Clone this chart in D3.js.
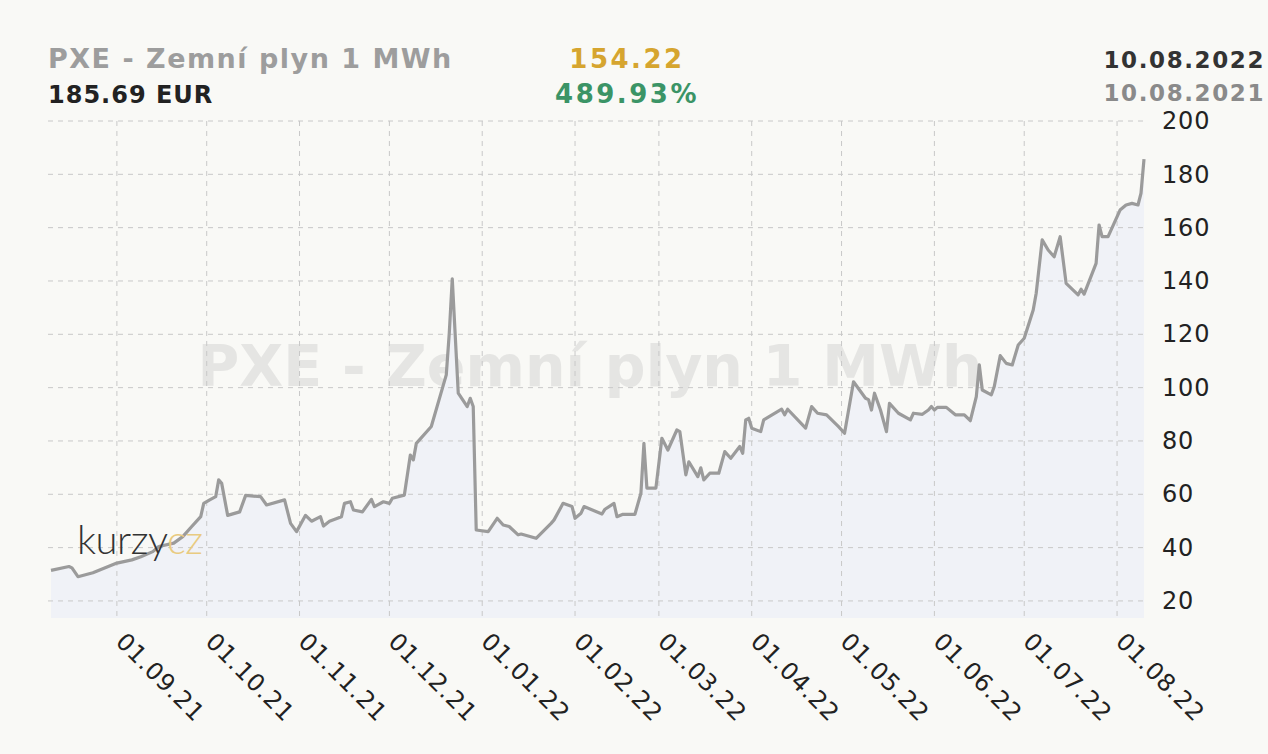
<!DOCTYPE html>
<html>
<head>
<meta charset="utf-8">
<script src="https://cdn.jsdelivr.net/npm/d3@7"></script>
<style>
  html, body { margin: 0; padding: 0; background: #f9f9f6; }
  svg { display: block; }
</style>
</head>
<body>
<div class="chart"></div>
<script>
// DATA
var title = "PXE - Zemní plyn 1 MWh";
var lastPrice = "185.69 EUR";
var change = "154.22";
var changePct = "489.93%";
var dateTo = "10.08.2022";
var dateFrom = "10.08.2021";

var dates = [
  "2021-08-10","2021-08-16","2021-08-17","2021-08-19","2021-08-24","2021-09-01","2021-09-06","2021-09-09",
  "2021-09-13","2021-09-15","2021-09-20","2021-09-23","2021-09-26","2021-09-29","2021-09-30","2021-10-02",
  "2021-10-04","2021-10-05","2021-10-06","2021-10-08","2021-10-12","2021-10-14","2021-10-19","2021-10-21",
  "2021-10-27","2021-10-29","2021-10-31","2021-11-03","2021-11-05","2021-11-08","2021-11-09","2021-11-11",
  "2021-11-15","2021-11-16","2021-11-18","2021-11-19","2021-11-22","2021-11-25","2021-11-26","2021-11-29",
  "2021-12-01","2021-12-02","2021-12-06","2021-12-08","2021-12-09","2021-12-10","2021-12-15","2021-12-20",
  "2021-12-21","2021-12-22","2021-12-24","2021-12-27","2021-12-28","2021-12-29","2021-12-30","2022-01-03",
  "2022-01-06","2022-01-08","2022-01-10","2022-01-13","2022-01-14","2022-01-19","2022-01-24","2022-01-25",
  "2022-01-28","2022-01-31","2022-02-01","2022-02-03","2022-02-04","2022-02-10","2022-02-11","2022-02-14",
  "2022-02-15","2022-02-17","2022-02-21","2022-02-23","2022-02-24","2022-02-25","2022-02-28","2022-03-02",
  "2022-03-04","2022-03-07","2022-03-08","2022-03-10","2022-03-11","2022-03-14","2022-03-15","2022-03-16",
  "2022-03-18","2022-03-21","2022-03-23","2022-03-25","2022-03-28","2022-03-29","2022-03-30","2022-03-31",
  "2022-04-01","2022-04-04","2022-04-05","2022-04-11","2022-04-12","2022-04-13","2022-04-19","2022-04-21",
  "2022-04-23","2022-04-26","2022-04-30","2022-05-02","2022-05-05","2022-05-07","2022-05-09","2022-05-10",
  "2022-05-11","2022-05-12","2022-05-14","2022-05-16","2022-05-17","2022-05-20","2022-05-24","2022-05-25",
  "2022-05-28","2022-05-30","2022-05-31","2022-06-01","2022-06-02","2022-06-05","2022-06-08","2022-06-11",
  "2022-06-13","2022-06-15","2022-06-16","2022-06-17","2022-06-20","2022-06-21","2022-06-23","2022-06-25",
  "2022-06-27","2022-06-29","2022-07-01","2022-07-04","2022-07-05","2022-07-07","2022-07-09","2022-07-11",
  "2022-07-13","2022-07-15","2022-07-19","2022-07-20","2022-07-21","2022-07-25","2022-07-26","2022-07-27",
  "2022-07-29","2022-08-02","2022-08-04","2022-08-06","2022-08-08","2022-08-09","2022-08-10"
];
var values = [
  31.47, 32.9, 32.4, 29.1, 30.6, 34.2, 35.4, 36.6,
  38.5, 40.4, 41.7, 44.1, 47.9, 51.6, 56.6, 57.9,
  59.1, 65.4, 64.1, 52.1, 53.4, 59.6, 59.1, 56.0,
  57.9, 49.1, 46.0, 52.1, 49.9, 51.6, 48.1, 49.9,
  51.6, 56.6, 57.2, 54.1, 53.4, 58.1, 55.4, 57.2,
  56.6, 58.5, 59.7, 74.7, 72.9, 79.1, 85.4, 104.8,
  120.4, 140.8, 97.9, 92.9, 96.0, 92.9, 46.6, 46.0,
  51.0, 48.5, 47.9, 44.8, 45.1, 43.5, 49.1, 50.4,
  56.6, 55.4, 51.0, 52.9, 55.4, 52.6, 54.4, 56.6,
  51.6, 52.5, 52.5, 60.4, 79.1, 62.3, 62.3, 81.0,
  76.6, 84.1, 83.5, 67.3, 72.2, 66.6, 69.9, 65.4,
  67.9, 67.9, 76.0, 73.5, 77.9, 75.4, 87.9, 88.5,
  84.8, 83.5, 87.9, 91.9, 89.8, 91.9, 84.8, 92.9,
  90.4, 89.8, 85.4, 82.9, 102.2, 99.1, 96.0, 95.5,
  91.6, 97.9, 91.6, 83.5, 94.1, 90.4, 87.9, 90.4,
  90.0, 91.6, 92.9, 91.6, 92.6, 92.6, 89.8, 89.8,
  87.6, 96.6, 108.5, 99.1, 97.3, 100.4, 112.0, 109.1,
  108.5, 116.0, 118.5, 129.1, 135.4, 155.4, 151.6, 149.1,
  156.6, 139.1, 134.8, 136.9, 135.1, 146.6, 161.0, 156.6,
  156.6, 166.6, 168.5, 169.1, 168.5, 172.9, 185.69
];
var yTicks = [20, 40, 60, 80, 100, 120, 140, 160, 180, 200];
var xTickDates = [
  "2021-09-01","2021-10-01","2021-11-01","2021-12-01","2022-01-01","2022-02-01",
  "2022-03-01","2022-04-01","2022-05-01","2022-06-01","2022-07-01","2022-08-01"
];

var W = 1268, H = 754;
var parse = d3.timeParse("%Y-%m-%d");
var data = dates.map(function (d, i) { return { date: parse(d), value: values[i] }; });
var font = "'DejaVu Sans', Verdana, sans-serif";

var svg = d3.select(".chart").append("svg")
  .attr("width", W)
  .attr("height", H);

var plot = { left: 48, right: 1144, top: 121, bottom: 618 };

// scales
var x = d3.scaleTime()
  .domain([parse("2021-08-10"), parse("2022-08-10")])
  .range([51, 1144]);
var y = d3.scaleLinear()
  .domain([13.6, 200])
  .range([plot.bottom, plot.top]);

// watermark (under the area)
svg.append("text")
  .attr("x", 590)
  .attr("y", 386)
  .attr("text-anchor", "middle")
  .style("font-family", font)
  .style("font-weight", "bold")
  .style("font-size", "57px")
  .style("fill", "#e5e5e3")
  .text(title);

// area under the line
var area = d3.area()
  .x(function (d) { return x(d.date); })
  .y0(plot.bottom)
  .y1(function (d) { return y(d.value); });
svg.append("path")
  .datum(data)
  .attr("d", area)
  .style("fill", "#f0f2f7");

// horizontal grid
svg.append("g").selectAll("line")
  .data(yTicks)
  .enter().append("line")
  .attr("x1", plot.left)
  .attr("x2", plot.right)
  .attr("y1", function (d) { return y(d); })
  .attr("y2", function (d) { return y(d); })
  .style("stroke", "#c8c8c8")
  .style("stroke-width", 1)
  .style("stroke-dasharray", "5,5");

// vertical grid at month starts
svg.append("g").selectAll("line")
  .data(xTickDates)
  .enter().append("line")
  .attr("x1", function (d) { return x(parse(d)); })
  .attr("x2", function (d) { return x(parse(d)); })
  .attr("y1", plot.top)
  .attr("y2", plot.bottom)
  .style("stroke", "#c8c8c8")
  .style("stroke-width", 1)
  .style("stroke-dasharray", "5,5");

// y axis labels on the right
var yAxis = d3.axisRight(y).tickValues(yTicks).tickSize(0).tickPadding(0);
var gy = svg.append("g")
  .attr("transform", "translate(1162,0)")
  .call(yAxis);
gy.select(".domain").remove();
gy.selectAll("text")
  .style("font-family", font)
  .style("font-size", "24px")
  .style("letter-spacing", "0.8px")
  .style("fill", "#222");

// x axis labels, rotated
var xAxis = d3.axisBottom(x)
  .tickValues(xTickDates.map(parse))
  .tickFormat(d3.timeFormat("%d.%m.%y"))
  .tickSize(0);
var gx = svg.append("g")
  .attr("transform", "translate(0," + plot.bottom + ")")
  .call(xAxis);
gx.select(".domain").remove();
gx.selectAll("text")
  .attr("text-anchor", "start")
  .attr("dy", "0.35em")
  .attr("x", 0)
  .attr("y", 0)
  .attr("transform", "translate(3,19) rotate(45)")
  .style("font-family", font)
  .style("font-size", "24px")
  .style("letter-spacing", "0.8px")
  .style("fill", "#222");

// the line
var line = d3.line()
  .x(function (d) { return x(d.date); })
  .y(function (d) { return y(d.value); });
svg.append("path")
  .datum(data)
  .attr("d", line)
  .style("fill", "none")
  .style("stroke", "#9b9b9b")
  .style("stroke-width", 3.2)
  .style("stroke-linejoin", "round");

// kurzy.cz logo
var logo = svg.append("text")
  .attr("x", 77)
  .attr("y", 554)
  .style("font-family", "Lato, 'Open Sans', sans-serif")
  .style("font-weight", "300")
  .style("font-size", "40px")
  .style("letter-spacing", "-0.5px");
logo.append("tspan").style("fill", "#333").text("kurzy");
logo.append("tspan").style("fill", "#e9cb80").text("cz");

// header
function header(txt, xx, yy, anchor, size, spacing, color) {
  svg.append("text")
    .attr("x", xx).attr("y", yy).attr("text-anchor", anchor)
    .style("font-family", font)
    .style("font-weight", "bold")
    .style("font-size", size + "px")
    .style("letter-spacing", spacing + "px")
    .style("fill", color)
    .text(txt);
}
header(title, 48, 68, "start", 27, 1.5, "#9d9d9d");
header(lastPrice, 48, 103, "start", 24, 1, "#222");
header(change, 627, 68, "middle", 26, 2.5, "#d6a52f");
header(changePct, 627, 103, "middle", 26, 2.5, "#3b9466");
header(dateTo, 1265, 68, "end", 23, 1.6, "#333");
header(dateFrom, 1265, 101, "end", 23, 1.6, "#8a8a8a");
</script>
</body>
</html>
